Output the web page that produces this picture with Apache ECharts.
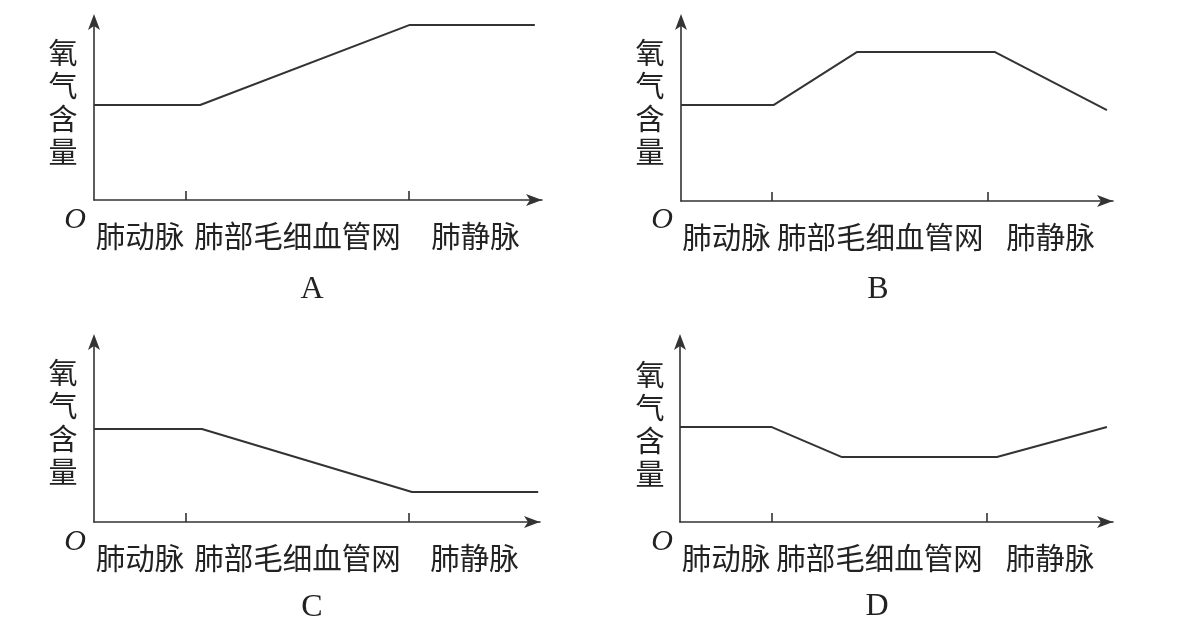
<!DOCTYPE html>
<html>
<head>
<meta charset="utf-8">
<script src="https://cdn.jsdelivr.net/npm/echarts@6/dist/echarts.min.js"></script>
<style>
html, body { margin: 0; padding: 0; background: #fff; }
#chart { width: 1179px; height: 633px; }
</style>
</head>
<body>
<div id="chart"></div>
<script>
// 分段名称
var sections = ['肺动脉', '肺部毛细血管网', '肺静脉'];
var panelNames = ['A', 'B', 'C', 'D'];
var yTitle = '氧气含量';
// 折线数据，坐标轴单位 0~10（10 为箭头处）
var xA = [0, 2.37, 7.05, 9.84],        yA = [5.22, 5.22, 9.62, 9.62];
var xB = [0, 2.15, 4.07, 7.27, 9.86],  yB = [5.25, 5.25, 8.14, 8.14, 4.97];
var xC = [0, 2.42, 7.13, 9.96],        yC = [5.05, 5.05, 1.63, 1.63];
var xD = [0, 2.12, 3.74, 7.32, 9.86],  yD = [5.16, 5.16, 3.53, 3.53, 5.16];
// 分段分界处的刻度
var ticksA = [2.05, 7.03], ticksB = [2.11, 7.11], ticksC = [2.06, 7.06], ticksD = [2.12, 7.09];

var lineColor = '#333';
var textColor = '#222';
var cjkFont = '"Noto Sans CJK SC", sans-serif';

var panels = [
	{ xs: xA, ys: yA, ticks: ticksA, grid: { left: 94, top: 18, width: 448, height: 182 } },
	{ xs: xB, ys: yB, ticks: ticksB, grid: { left: 681, top: 18, width: 432, height: 183 } },
	{ xs: xC, ys: yC, ticks: ticksC, grid: { left: 94, top: 338, width: 446, height: 184 } },
	{ xs: xD, ys: yD, ticks: ticksD, grid: { left: 680, top: 338, width: 433, height: 184 } }
];

var grids = [], xAxes = [], yAxes = [], series = [];
for (var i = 0; i < panels.length; i++) {
	var p = panels[i];
	grids.push(p.grid);
	//标签放在每一段的中间
	var bounds = [0, p.ticks[0], p.ticks[1], 10];
	var labelPos = [];
	for (var k = 0; k < 3; k++) labelPos.push((bounds[k] + bounds[k + 1]) / 2);
	(function (pos) {
		xAxes.push({
			type: 'value', gridIndex: i, min: 0, max: 10,
			axisLine: { show: true, symbol: ['none', 'arrow'], symbolSize: [9, 16], symbolOffset: [0, 0],
				lineStyle: { color: lineColor, width: 1.6 } },
			axisTick: { show: true, inside: true, length: 9, customValues: p.ticks,
				lineStyle: { color: lineColor, width: 1.6 } },
			axisLabel: { show: true, customValues: pos, margin: 21, fontSize: 29.5, color: textColor, fontFamily: cjkFont,
				formatter: function (v) {
					var best = 0;
					for (var m = 1; m < pos.length; m++) if (Math.abs(pos[m] - v) < Math.abs(pos[best] - v)) best = m;
					return sections[best];
				}
			},
			splitLine: { show: false }
		});
	})(labelPos);
	yAxes.push({
		type: 'value', gridIndex: i, min: 0, max: 10,
		axisLine: { show: true, symbol: ['none', 'arrow'], symbolSize: [9, 16], symbolOffset: [0, 4],
			lineStyle: { color: lineColor, width: 1.6 } },
		axisTick: { show: false },
		axisLabel: { show: false },
		splitLine: { show: false }
	});
	var pts = [];
	for (var j = 0; j < p.xs.length; j++) pts.push([p.xs[j], p.ys[j]]);
	series.push({
		type: 'line', xAxisIndex: i, yAxisIndex: i, data: pts,
		symbol: 'none', lineStyle: { color: lineColor, width: 2 }
	});
}

//纵轴名称、原点 O 和图号
var graphics = [];
var yTitlePos = [[63, 102], [650, 102], [63, 422], [650, 424]];
var oPos = [[75, 220], [662, 220], [75, 542], [662, 542]];
var letterPos = [[312, 290], [878, 290], [312, 608], [877, 607]];
for (var i = 0; i < 4; i++) {
	graphics.push({ type: 'text', x: yTitlePos[i][0], y: yTitlePos[i][1],
		style: { text: yTitle.split('').join('\n'), fontSize: 29, lineHeight: 33, fontFamily: cjkFont,
			fill: textColor, align: 'center', verticalAlign: 'middle' } });
	graphics.push({ type: 'text', x: oPos[i][0], y: oPos[i][1],
		style: { text: 'O', font: 'italic 30px "Liberation Serif"', fill: textColor, align: 'center', verticalAlign: 'middle' } });
	graphics.push({ type: 'text', x: letterPos[i][0], y: letterPos[i][1],
		style: { text: panelNames[i], font: '32px "Liberation Serif"', fill: textColor, align: 'center', verticalAlign: 'middle' } });
}

var chart = echarts.init(document.getElementById('chart'));
chart.setOption({
	animation: false,
	backgroundColor: '#fff',
	grid: grids,
	xAxis: xAxes,
	yAxis: yAxes,
	series: series,
	graphic: graphics
});
</script>
</body>
</html>
